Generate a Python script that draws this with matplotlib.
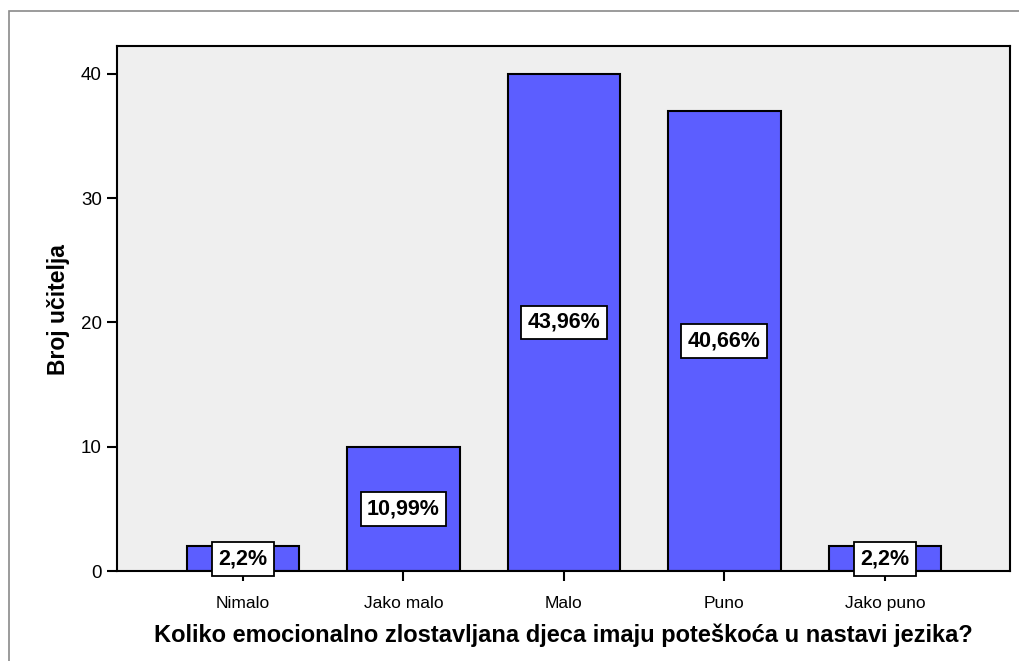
import matplotlib
matplotlib.use("Agg")
import matplotlib.pyplot as plt
from matplotlib.patches import Rectangle

plt.rcParams['font.family'] = ['Liberation Sans', 'DejaVu Sans']

# podaci
categories = ['Nimalo', 'Jako malo', 'Malo', 'Puno', 'Jako puno']
counts = [2, 10, 40, 37, 2]
percent_labels = ['2,2%', '10,99%', '43,96%', '40,66%', '2,2%']
y_ticks = [0, 10, 20, 30, 40]

bar_color = '#5c5eff'
bg_color = '#efefef'

fig = plt.figure(figsize=(10.19, 6.61), dpi=100)
# vanjski okvir
fig.patches.append(Rectangle((9 / 1019, -0.01), 1.02, 1 - 11 / 661 + 0.01,
                             transform=fig.transFigure, fill=False,
                             edgecolor='#8a8a8a', linewidth=1.2))

ax = fig.add_axes([117 / 1019, 1 - 571 / 661, (1010 - 117) / 1019, (571 - 46) / 661])
ax.set_facecolor(bg_color)

x = list(range(len(categories)))
ax.bar(x, counts, width=0.7, color=bar_color, edgecolor='black', linewidth=1.5, zorder=2)

for xi, c, lab in zip(x, counts, percent_labels):
    ax.text(xi, c / 2, lab, ha='center', va='center', fontsize=15.5, fontweight='bold',
            zorder=3,
            bbox=dict(boxstyle='square,pad=0.3', facecolor='white', edgecolor='black', linewidth=1.3))

ax.set_xlim(-0.785, 4.78)
ax.set_ylim(0, 42.25)
ax.set_xticks(x)
ax.set_xticklabels(categories, fontsize=12.5)
ax.set_yticks(y_ticks)
ax.tick_params(axis='y', labelsize=13.5, length=7, width=1.5, direction='out', pad=4)
ax.tick_params(axis='x', length=7, width=1.5, direction='out', pad=11)

for s in ax.spines.values():
    s.set_linewidth(1.5)
    s.set_color('black')

ax.set_ylabel('Broj učitelja', fontsize=16.5, fontweight='bold')
ax.yaxis.set_label_coords(-47 / 893, 0.5 - 1 / 525)
ax.set_xlabel('Koliko emocionalno zlostavljana djeca imaju poteškoća u nastavi jezika?',
              fontsize=17, fontweight='bold', labelpad=9)

plt.savefig('out.png', dpi=100)
plt.close()
